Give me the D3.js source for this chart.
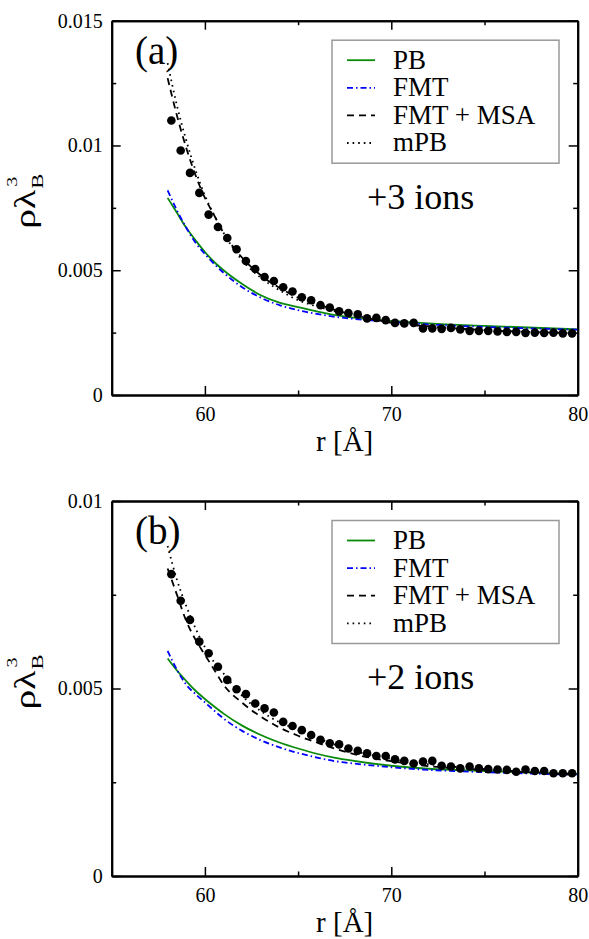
<!DOCTYPE html>
<html>
<head>
<meta charset="utf-8">
<script src="https://cdn.jsdelivr.net/npm/d3@7"></script>
<style>
  html, body { margin: 0; padding: 0; background: #fff; }
  svg { display: block; }
  text { font-family: "Liberation Serif", "Times New Roman", serif; fill: #000; }
</style>
</head>
<body>
<svg id="chart" width="589" height="939"></svg>
<script>
// ---- data ---------------------------------------------------------------
// radial positions of the simulation points (Å)
const rSim = [58.2, 58.7, 59.2, 59.7, 60.2, 60.7, 61.2, 61.7, 62.2, 62.7, 63.2, 63.7,
  64.2, 64.7, 65.2, 65.7, 66.2, 66.7, 67.2, 67.7, 68.2, 68.7, 69.2, 69.7, 70.2, 70.7,
  71.2, 71.7, 72.2, 72.7, 73.2, 73.7, 74.2, 74.7, 75.2, 75.7, 76.2, 76.7, 77.2, 77.7,
  78.2, 78.7, 79.2, 79.7];

// simulation densities, trivalent ions (a)
const simA = [0.0110, 0.0098, 0.0089, 0.0081, 0.00723, 0.00673, 0.00629, 0.00584, 0.00537,
  0.00505, 0.00473, 0.00457, 0.00432, 0.00415, 0.00392, 0.00380, 0.00360, 0.00350, 0.00335,
  0.00328, 0.00323, 0.00307, 0.00309, 0.00300, 0.00289, 0.00287, 0.00289, 0.00267, 0.00267,
  0.00265, 0.00269, 0.00263, 0.00257, 0.00257, 0.00257, 0.00255, 0.00253, 0.00253, 0.00249,
  0.00250, 0.00249, 0.00250, 0.00247, 0.00247];

// simulation densities, divalent ions (b)
const simB = [0.00805, 0.00734, 0.00683, 0.00625, 0.00594, 0.00558, 0.00523, 0.00498, 0.00485,
  0.00460, 0.00447, 0.00436, 0.00411, 0.00400, 0.00389, 0.00376, 0.00363, 0.00354, 0.00351,
  0.00340, 0.00334, 0.00327, 0.00320, 0.00320, 0.00311, 0.00307, 0.00300, 0.00305, 0.00307,
  0.00294, 0.00292, 0.00287, 0.00292, 0.00287, 0.00285, 0.00284, 0.00283, 0.00278, 0.00284,
  0.00280, 0.00280, 0.00274, 0.00274, 0.00274];

// radial grid of the theory curves (Å)
const rTheory = [58, 58.5, 59, 59.5, 60, 60.5, 61, 62, 63, 64, 65, 66, 67, 68, 70, 72, 75, 80];

// theory curves, panel (a)
const pbA  = [0.0079, 0.0073, 0.0067, 0.0062, 0.00573, 0.00533, 0.0050, 0.00445, 0.0040, 0.0037,
  0.00352, 0.00335, 0.0032, 0.0031, 0.00297, 0.00287, 0.00277, 0.00263];
const fmtA = [0.0082, 0.0074, 0.0067, 0.0061, 0.00565, 0.00525, 0.0049, 0.00432, 0.0039, 0.0036,
  0.0034, 0.00325, 0.00313, 0.00305, 0.00293, 0.00283, 0.00273, 0.00262];
const msaA = [0.0127, 0.0112, 0.0099, 0.0088, 0.0079, 0.0072, 0.0065, 0.0055, 0.0048, 0.0043,
  0.0039, 0.00365, 0.0034, 0.0032, 0.0029, 0.00275, 0.0026, 0.00248];
const mpbA = [0.0133, 0.0116, 0.0102, 0.0090, 0.0080, 0.0072, 0.0065, 0.0054, 0.0047, 0.0042,
  0.0038, 0.00355, 0.00335, 0.0032, 0.0029, 0.00275, 0.0026, 0.00248];

// theory curves, panel (b)
const pbB  = [0.0058, 0.00548, 0.0052, 0.00494, 0.00472, 0.00452, 0.00433, 0.00401, 0.00376,
  0.00356, 0.0034, 0.00326, 0.00315, 0.00307, 0.00294, 0.00286, 0.0028, 0.00272];
const fmtB = [0.0060, 0.0055, 0.0051, 0.00485, 0.00463, 0.00441, 0.0042, 0.00387, 0.00362,
  0.00343, 0.00328, 0.00316, 0.00306, 0.0030, 0.0029, 0.00283, 0.00277, 0.0027];
const msaB = [0.0082, 0.0075, 0.0068, 0.0063, 0.0059, 0.0055, 0.0051, 0.00462, 0.00425,
  0.00396, 0.00374, 0.00356, 0.00339, 0.00325, 0.00306, 0.00293, 0.00283, 0.0027];
const mpbB = [0.0088, 0.0079, 0.0072, 0.0066, 0.0061, 0.0057, 0.0054, 0.0048, 0.0044,
  0.0041, 0.0039, 0.00368, 0.0035, 0.00334, 0.00312, 0.00298, 0.00285, 0.00272];

// axes
const xDomain = [55, 80];
const xMajor = [60, 70, 80];
const xMinor = [65, 75];
const yMajorA = [0, 0.005, 0.01, 0.015];
const yLabelsA = ["0", "0.005", "0.01", "0.015"];
const yMinorA = [0.0025, 0.0075, 0.0125];
const yMajorB = [0, 0.005, 0.01];
const yLabelsB = ["0", "0.005", "0.01"];
const yMinorB = [0.0025, 0.0075];

const seriesNames = ["PB", "FMT", "FMT + MSA", "mPB"];
const panelTags = ["(a)", "(b)"];
const ionLabels = ["+3 ions", "+2 ions"];

// ---- drawing ------------------------------------------------------------
const svg = d3.select("#chart");
const left = 111.7, right = 577.7;
const serif = "Liberation Serif, Times New Roman, serif";

const styles = [
  { color: "#0a8a0a", dash: null, width: 1.8 },
  { color: "#0000ff", dash: "6,3,1.5,3", width: 1.8 },
  { color: "#000000", dash: "7,5", width: 1.8 },
  { color: "#000000", dash: "1.6,4", width: 1.8 }
];

const panels = [
  { top: 20.7, bottom: 395, yMax: 0.015, yMajor: yMajorA, yLabels: yLabelsA, yMinor: yMinorA,
    sim: simA, curves: [pbA, fmtA, msaA, mpbA], tag: panelTags[0], ions: ionLabels[0] },
  { top: 501, bottom: 876, yMax: 0.01, yMajor: yMajorB, yLabels: yLabelsB, yMinor: yMinorB,
    sim: simB, curves: [pbB, fmtB, msaB, mpbB], tag: panelTags[1], ions: ionLabels[1] }
];

panels.forEach(p => {
  const x = d3.scaleLinear().domain(xDomain).range([left, right]);
  const y = d3.scaleLinear().domain([0, p.yMax]).range([p.bottom, p.top]);
  const g = svg.append("g");

  const clipId = "clip" + Math.round(p.top);
  svg.append("clipPath").attr("id", clipId).append("rect")
    .attr("x", left).attr("y", p.top).attr("width", right - left).attr("height", p.bottom - p.top);

  // theory curves
  const plot = g.append("g").attr("clip-path", `url(#${clipId})`);
  const line = d3.line().x(d => x(d[0])).y(d => y(d[1])).curve(d3.curveMonotoneX);
  p.curves.forEach((vals, i) => {
    const st = styles[i];
    plot.append("path")
      .datum(rTheory.map((r, k) => [r, vals[k]]))
      .attr("d", line)
      .attr("fill", "none")
      .attr("stroke", st.color)
      .attr("stroke-width", st.width)
      .attr("stroke-dasharray", st.dash);
  });

  // simulation points
  plot.selectAll("circle.sim")
    .data(rSim.map((r, k) => [r, p.sim[k]]))
    .join("circle")
    .attr("class", "sim")
    .attr("cx", d => x(d[0]))
    .attr("cy", d => y(d[1]))
    .attr("r", 4.3)
    .attr("fill", "#000");

  // axes: ticks point inward on all four sides
  const styleAxis = sel => {
    sel.selectAll(".domain").attr("stroke", "#000").attr("stroke-width", 2);
    sel.selectAll(".tick line").attr("stroke", "#000").attr("stroke-width", 1.5);
    sel.selectAll(".tick text")
      .attr("font-family", serif)
      .attr("font-size", 20)
      .attr("fill", "#000");
  };

  g.append("g").attr("transform", `translate(0,${p.bottom})`)
    .call(d3.axisBottom(x).tickValues(xMajor).tickSize(-9).tickSizeOuter(0).tickPadding(12)
      .tickFormat(d3.format("d")))
    .call(styleAxis);
  g.append("g").attr("transform", `translate(0,${p.bottom})`)
    .call(d3.axisBottom(x).tickValues(xMinor).tickSize(-4.5).tickSizeOuter(0).tickFormat(""))
    .call(styleAxis);
  g.append("g").attr("transform", `translate(0,${p.top})`)
    .call(d3.axisTop(x).tickValues(xMajor).tickSize(-9).tickSizeOuter(0).tickFormat(""))
    .call(styleAxis);
  g.append("g").attr("transform", `translate(0,${p.top})`)
    .call(d3.axisTop(x).tickValues(xMinor).tickSize(-4.5).tickSizeOuter(0).tickFormat(""))
    .call(styleAxis);

  g.append("g").attr("transform", `translate(${left},0)`)
    .call(d3.axisLeft(y).tickValues(p.yMajor).tickSize(-9).tickSizeOuter(0).tickPadding(9)
      .tickFormat((d, i) => p.yLabels[i]))
    .call(styleAxis);
  g.append("g").attr("transform", `translate(${left},0)`)
    .call(d3.axisLeft(y).tickValues(p.yMinor).tickSize(-4.5).tickSizeOuter(0).tickFormat(""))
    .call(styleAxis);
  g.append("g").attr("transform", `translate(${right},0)`)
    .call(d3.axisRight(y).tickValues(p.yMajor).tickSize(-9).tickSizeOuter(0).tickFormat(""))
    .call(styleAxis);
  g.append("g").attr("transform", `translate(${right},0)`)
    .call(d3.axisRight(y).tickValues(p.yMinor).tickSize(-4.5).tickSizeOuter(0).tickFormat(""))
    .call(styleAxis);

  // x axis title
  g.append("text")
    .attr("x", (left + right) / 2).attr("y", p.bottom + 56)
    .attr("text-anchor", "middle")
    .attr("font-family", serif)
    .attr("font-size", 29)
    .text("r [Å]");

  // y axis title: rho lambda_B^3
  const yt = g.append("g")
    .attr("transform", `translate(35,${(p.top + p.bottom) / 2 + 21}) rotate(-90)`)
    .attr("font-family", serif);
  yt.append("text").attr("x", 0).attr("y", 0).attr("font-size", 30)
    .attr("textLength", 39).attr("lengthAdjust", "spacingAndGlyphs").text("ρλ");
  yt.append("text").attr("x", 40).attr("y", 8).attr("font-size", 17)
    .attr("textLength", 15).attr("lengthAdjust", "spacingAndGlyphs").text("B");
  yt.append("text").attr("x", 42).attr("y", -18).attr("font-size", 15)
    .attr("textLength", 10).attr("lengthAdjust", "spacingAndGlyphs").text("3");

  // panel tag and ion valence
  g.append("text").attr("x", 135).attr("y", p.top + 43)
    .attr("font-family", serif).attr("font-size", 39).text(p.tag);
  g.append("text").attr("x", 367).attr("y", p.top + 188)
    .attr("font-family", serif).attr("font-size", 36).text(p.ions);

  // legend
  const lg = g.append("g").attr("transform", `translate(332,${p.top + 19.5})`);
  lg.append("rect").attr("x", 0).attr("y", 0).attr("width", 227).attr("height", 123)
    .attr("fill", "#fff").attr("stroke", "#999").attr("stroke-width", 1.5);
  seriesNames.forEach((name, i) => {
    const yy = 20 + i * 27.6;
    const st = styles[i];
    lg.append("line").attr("x1", 15).attr("x2", 43).attr("y1", yy).attr("y2", yy)
      .attr("stroke", st.color).attr("stroke-width", st.width)
      .attr("stroke-dasharray", st.dash);
    lg.append("text").attr("x", 61).attr("y", yy + 8.5)
      .attr("font-family", serif).attr("font-size", 27)
      .text(name);
  });
});
</script>
</body>
</html>
